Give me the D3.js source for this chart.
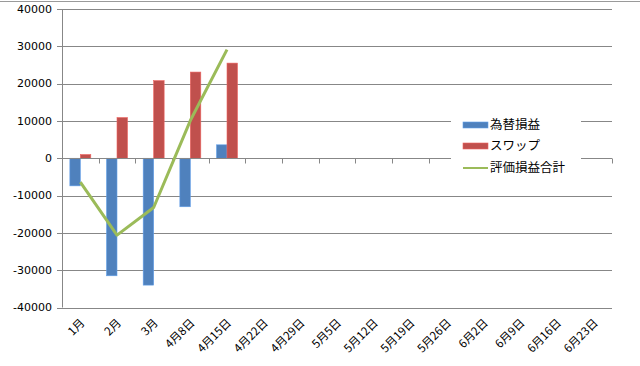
<!DOCTYPE html>
<html>
<head>
<meta charset="utf-8">
<script src="https://cdn.jsdelivr.net/npm/d3@7"></script>
<style>
  body { margin: 0; background: #fff; }
  svg { display: block; }
</style>
</head>
<body>
<svg id="chart" width="640" height="366"></svg>
<script>
// categories on the x axis
const categories = ["1月", "2月", "3月", "4月8日", "4月15日", "4月22日", "4月29日", "5月5日",
  "5月12日", "5月19日", "5月26日", "6月2日", "6月9日", "6月16日", "6月23日"];
// series (only the first weeks have data)
const fxValues   = [-7400, -31500, -34000, -13000, 3600];
const swapValues = [1000, 10900, 20800, 23100, 25500];
const totalValues = [-6400, -20600, -13200, 10100, 29100];
const yTicks = [-40000, -30000, -20000, -10000, 0, 10000, 20000, 30000, 40000];
const seriesNames = ["為替損益", "スワップ", "評価損益合計"];
const colors = ["#4F81BD", "#C0504D", "#9BBB59"];

const svg = d3.select("#chart");
const plotL = 62, plotR = 612, plotT = 9, plotB = 307.5;

// frame line at the very top
svg.append("line").attr("x1", 0).attr("x2", 640).attr("y1", 1.5).attr("y2", 1.5)
  .attr("stroke", "#9a9a9a").attr("stroke-width", 1);

const x = d3.scaleBand().domain(categories).range([plotL, plotR]).paddingInner(0).paddingOuter(0);
const y = d3.scaleLinear().domain([-40000, 40000]).range([plotB, plotT]);

// gridlines
svg.append("g").selectAll("line").data(yTicks).join("line")
  .attr("x1", plotL - 5).attr("x2", plotR)
  .attr("y1", d => Math.round(y(d)) + 0.5).attr("y2", d => Math.round(y(d)) + 0.5)
  .attr("stroke", "#878787").attr("stroke-width", 1);

// y axis labels
svg.append("g").selectAll("text").data(yTicks).join("text")
  .attr("x", 52).attr("y", d => y(d)).attr("dy", "0.35em")
  .attr("text-anchor", "end")
  .attr("font-family", "'DejaVu Sans', Verdana, sans-serif").attr("font-size", 11)
  .attr("fill", "#000").text(d => d);

// y axis line
svg.append("line").attr("x1", plotL + 0.5).attr("x2", plotL + 0.5)
  .attr("y1", plotT).attr("y2", plotB).attr("stroke", "#878787");

// bars
const barW = x.bandwidth() / 3.5;
const groupOff = (x.bandwidth() - 2 * barW) / 2;
[fxValues, swapValues].forEach((vals, si) => {
  svg.append("g").selectAll("rect").data(vals).join("rect")
    .attr("x", (d, i) => x(categories[i]) + groupOff + si * barW)
    .attr("y", d => y(Math.max(0, d)))
    .attr("width", barW)
    .attr("height", d => Math.abs(y(d) - y(0)))
    .attr("fill", colors[si])
    .attr("stroke", d3.color(colors[si]).brighter(0.6))
    .attr("stroke-width", 0.6);
});

// x axis at zero with ticks
const zy = Math.round(y(0)) + 0.5;
svg.append("line").attr("x1", plotL).attr("x2", plotR).attr("y1", zy).attr("y2", zy)
  .attr("stroke", "#878787");
svg.append("g").selectAll("line").data(categories).join("line")
  .attr("x1", d => Math.round(x(d) + x.bandwidth()) + 0.5)
  .attr("x2", d => Math.round(x(d) + x.bandwidth()) + 0.5)
  .attr("y1", zy).attr("y2", zy + 5).attr("stroke", "#878787");

// total line
const line = d3.line()
  .x((d, i) => x(categories[i]) + x.bandwidth() / 2)
  .y(d => y(d));
svg.append("path").datum(totalValues).attr("d", line)
  .attr("fill", "none").attr("stroke", colors[2]).attr("stroke-width", 3)
  .attr("stroke-linejoin", "round");

// x labels rotated
svg.append("g").selectAll("text").data(categories).join("text")
  .attr("transform", d => `translate(${x(d) + x.bandwidth() / 2 + 5},${plotB + 16}) rotate(-45)`)
  .attr("text-anchor", "end")
  .attr("font-family", "'Noto Sans CJK JP', sans-serif").attr("font-size", 11.5)
  .attr("fill", "#000").text(d => d);

// legend
const lg = svg.append("g");
lg.append("rect").attr("x", 451).attr("y", 112).attr("width", 130).attr("height", 68).attr("fill", "#fff");
const rowsY = [125, 146, 168];
seriesNames.forEach((name, i) => {
  if (i < 2) {
    lg.append("rect").attr("x", 463).attr("y", rowsY[i] - 3).attr("width", 25).attr("height", 6)
      .attr("fill", colors[i]).attr("stroke", d3.color(colors[i]).brighter(0.6)).attr("stroke-width", 0.6);
  } else {
    lg.append("line").attr("x1", 463).attr("x2", 488).attr("y1", rowsY[i]).attr("y2", rowsY[i])
      .attr("stroke", colors[i]).attr("stroke-width", 2);
  }
  lg.append("text").attr("x", 490).attr("y", rowsY[i]).attr("dy", "0.35em")
    .attr("font-family", "'Noto Sans CJK JP', sans-serif").attr("font-size", 12.5)
    .attr("fill", "#000").text(name);
});
</script>
</body>
</html>
